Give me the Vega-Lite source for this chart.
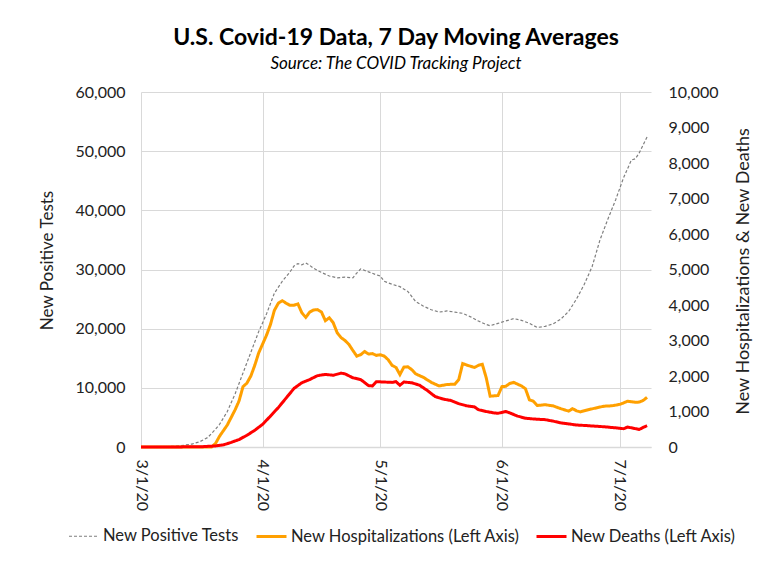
{
  "$schema": "https://vega.github.io/schema/vega-lite/v6.json",
  "width": 510,
  "height": 355,
  "autosize": {"type": "none"},
  "padding": {"left": 141, "top": 92, "right": 130, "bottom": 120},
  "background": "white",
  "title": {
    "text": "U.S. Covid-19 Data, 7 Day Moving Averages",
    "subtitle": "Source: The COVID Tracking Project",
    "anchor": "middle",
    "font": "Lato",
    "fontSize": 23,
    "fontWeight": "bold",
    "color": "#000000",
    "subtitleFont": "Lato",
    "subtitleFontSize": 17,
    "subtitleFontStyle": "italic",
    "subtitleColor": "#000000",
    "subtitlePadding": 6,
    "offset": 12
  },
  "data": {
    "values": [
      {"date": "2020/03/01", "series": "New Positive Tests", "value": 0},
      {"date": "2020/03/05", "series": "New Positive Tests", "value": 30},
      {"date": "2020/03/09", "series": "New Positive Tests", "value": 100},
      {"date": "2020/03/12", "series": "New Positive Tests", "value": 300},
      {"date": "2020/03/14", "series": "New Positive Tests", "value": 500},
      {"date": "2020/03/16", "series": "New Positive Tests", "value": 900},
      {"date": "2020/03/18", "series": "New Positive Tests", "value": 1600},
      {"date": "2020/03/20", "series": "New Positive Tests", "value": 3000},
      {"date": "2020/03/21", "series": "New Positive Tests", "value": 3800},
      {"date": "2020/03/23", "series": "New Positive Tests", "value": 6000},
      {"date": "2020/03/25", "series": "New Positive Tests", "value": 9000},
      {"date": "2020/03/27", "series": "New Positive Tests", "value": 12500},
      {"date": "2020/03/29", "series": "New Positive Tests", "value": 16000},
      {"date": "2020/03/31", "series": "New Positive Tests", "value": 19500},
      {"date": "2020/04/02", "series": "New Positive Tests", "value": 22500},
      {"date": "2020/04/04", "series": "New Positive Tests", "value": 26000},
      {"date": "2020/04/06", "series": "New Positive Tests", "value": 28000},
      {"date": "2020/04/08", "series": "New Positive Tests", "value": 29600},
      {"date": "2020/04/09", "series": "New Positive Tests", "value": 30600},
      {"date": "2020/04/10", "series": "New Positive Tests", "value": 31000},
      {"date": "2020/04/11", "series": "New Positive Tests", "value": 30800},
      {"date": "2020/04/12", "series": "New Positive Tests", "value": 31100},
      {"date": "2020/04/13", "series": "New Positive Tests", "value": 30700},
      {"date": "2020/04/14", "series": "New Positive Tests", "value": 30200},
      {"date": "2020/04/16", "series": "New Positive Tests", "value": 29500},
      {"date": "2020/04/18", "series": "New Positive Tests", "value": 28900},
      {"date": "2020/04/20", "series": "New Positive Tests", "value": 28600},
      {"date": "2020/04/22", "series": "New Positive Tests", "value": 28700},
      {"date": "2020/04/24", "series": "New Positive Tests", "value": 28600},
      {"date": "2020/04/25", "series": "New Positive Tests", "value": 29400},
      {"date": "2020/04/26", "series": "New Positive Tests", "value": 30100},
      {"date": "2020/04/28", "series": "New Positive Tests", "value": 29600},
      {"date": "2020/04/30", "series": "New Positive Tests", "value": 29100},
      {"date": "2020/05/01", "series": "New Positive Tests", "value": 28900},
      {"date": "2020/05/02", "series": "New Positive Tests", "value": 28000},
      {"date": "2020/05/04", "series": "New Positive Tests", "value": 27500},
      {"date": "2020/05/06", "series": "New Positive Tests", "value": 27100},
      {"date": "2020/05/08", "series": "New Positive Tests", "value": 26300},
      {"date": "2020/05/10", "series": "New Positive Tests", "value": 24600},
      {"date": "2020/05/12", "series": "New Positive Tests", "value": 23800},
      {"date": "2020/05/14", "series": "New Positive Tests", "value": 23200},
      {"date": "2020/05/16", "series": "New Positive Tests", "value": 22800},
      {"date": "2020/05/18", "series": "New Positive Tests", "value": 23000},
      {"date": "2020/05/20", "series": "New Positive Tests", "value": 22800},
      {"date": "2020/05/22", "series": "New Positive Tests", "value": 22600},
      {"date": "2020/05/24", "series": "New Positive Tests", "value": 22000},
      {"date": "2020/05/26", "series": "New Positive Tests", "value": 21300},
      {"date": "2020/05/28", "series": "New Positive Tests", "value": 20700},
      {"date": "2020/05/29", "series": "New Positive Tests", "value": 20500},
      {"date": "2020/05/31", "series": "New Positive Tests", "value": 20900},
      {"date": "2020/06/02", "series": "New Positive Tests", "value": 21300},
      {"date": "2020/06/04", "series": "New Positive Tests", "value": 21700},
      {"date": "2020/06/06", "series": "New Positive Tests", "value": 21400},
      {"date": "2020/06/08", "series": "New Positive Tests", "value": 20900},
      {"date": "2020/06/10", "series": "New Positive Tests", "value": 20200},
      {"date": "2020/06/12", "series": "New Positive Tests", "value": 20400},
      {"date": "2020/06/14", "series": "New Positive Tests", "value": 20800},
      {"date": "2020/06/16", "series": "New Positive Tests", "value": 21600},
      {"date": "2020/06/18", "series": "New Positive Tests", "value": 22900},
      {"date": "2020/06/20", "series": "New Positive Tests", "value": 25000},
      {"date": "2020/06/22", "series": "New Positive Tests", "value": 27500},
      {"date": "2020/06/24", "series": "New Positive Tests", "value": 30500},
      {"date": "2020/06/26", "series": "New Positive Tests", "value": 35000},
      {"date": "2020/06/28", "series": "New Positive Tests", "value": 38500},
      {"date": "2020/06/30", "series": "New Positive Tests", "value": 41800},
      {"date": "2020/07/02", "series": "New Positive Tests", "value": 45500},
      {"date": "2020/07/04", "series": "New Positive Tests", "value": 48500},
      {"date": "2020/07/05", "series": "New Positive Tests", "value": 48700},
      {"date": "2020/07/06", "series": "New Positive Tests", "value": 49700},
      {"date": "2020/07/08", "series": "New Positive Tests", "value": 52400},

      {"date": "2020/03/01", "series": "New Hospitalizations (Left Axis)", "value": 0},
      {"date": "2020/03/19", "series": "New Hospitalizations (Left Axis)", "value": 0},
      {"date": "2020/03/20", "series": "New Hospitalizations (Left Axis)", "value": 100},
      {"date": "2020/03/21", "series": "New Hospitalizations (Left Axis)", "value": 300},
      {"date": "2020/03/23", "series": "New Hospitalizations (Left Axis)", "value": 620},
      {"date": "2020/03/25", "series": "New Hospitalizations (Left Axis)", "value": 1050},
      {"date": "2020/03/26", "series": "New Hospitalizations (Left Axis)", "value": 1300},
      {"date": "2020/03/27", "series": "New Hospitalizations (Left Axis)", "value": 1700},
      {"date": "2020/03/28", "series": "New Hospitalizations (Left Axis)", "value": 1800},
      {"date": "2020/03/29", "series": "New Hospitalizations (Left Axis)", "value": 2000},
      {"date": "2020/03/30", "series": "New Hospitalizations (Left Axis)", "value": 2300},
      {"date": "2020/03/31", "series": "New Hospitalizations (Left Axis)", "value": 2650},
      {"date": "2020/04/01", "series": "New Hospitalizations (Left Axis)", "value": 2900},
      {"date": "2020/04/02", "series": "New Hospitalizations (Left Axis)", "value": 3150},
      {"date": "2020/04/03", "series": "New Hospitalizations (Left Axis)", "value": 3450},
      {"date": "2020/04/04", "series": "New Hospitalizations (Left Axis)", "value": 3850},
      {"date": "2020/04/05", "series": "New Hospitalizations (Left Axis)", "value": 4050},
      {"date": "2020/04/06", "series": "New Hospitalizations (Left Axis)", "value": 4120},
      {"date": "2020/04/07", "series": "New Hospitalizations (Left Axis)", "value": 4050},
      {"date": "2020/04/08", "series": "New Hospitalizations (Left Axis)", "value": 3990},
      {"date": "2020/04/09", "series": "New Hospitalizations (Left Axis)", "value": 3995},
      {"date": "2020/04/10", "series": "New Hospitalizations (Left Axis)", "value": 4030},
      {"date": "2020/04/11", "series": "New Hospitalizations (Left Axis)", "value": 3780},
      {"date": "2020/04/12", "series": "New Hospitalizations (Left Axis)", "value": 3650},
      {"date": "2020/04/13", "series": "New Hospitalizations (Left Axis)", "value": 3800},
      {"date": "2020/04/14", "series": "New Hospitalizations (Left Axis)", "value": 3860},
      {"date": "2020/04/15", "series": "New Hospitalizations (Left Axis)", "value": 3870},
      {"date": "2020/04/16", "series": "New Hospitalizations (Left Axis)", "value": 3800},
      {"date": "2020/04/17", "series": "New Hospitalizations (Left Axis)", "value": 3560},
      {"date": "2020/04/18", "series": "New Hospitalizations (Left Axis)", "value": 3640},
      {"date": "2020/04/19", "series": "New Hospitalizations (Left Axis)", "value": 3500},
      {"date": "2020/04/20", "series": "New Hospitalizations (Left Axis)", "value": 3220},
      {"date": "2020/04/21", "series": "New Hospitalizations (Left Axis)", "value": 3080},
      {"date": "2020/04/22", "series": "New Hospitalizations (Left Axis)", "value": 3000},
      {"date": "2020/04/23", "series": "New Hospitalizations (Left Axis)", "value": 2890},
      {"date": "2020/04/24", "series": "New Hospitalizations (Left Axis)", "value": 2720},
      {"date": "2020/04/25", "series": "New Hospitalizations (Left Axis)", "value": 2560},
      {"date": "2020/04/26", "series": "New Hospitalizations (Left Axis)", "value": 2600},
      {"date": "2020/04/27", "series": "New Hospitalizations (Left Axis)", "value": 2690},
      {"date": "2020/04/28", "series": "New Hospitalizations (Left Axis)", "value": 2620},
      {"date": "2020/04/29", "series": "New Hospitalizations (Left Axis)", "value": 2630},
      {"date": "2020/04/30", "series": "New Hospitalizations (Left Axis)", "value": 2580},
      {"date": "2020/05/01", "series": "New Hospitalizations (Left Axis)", "value": 2600},
      {"date": "2020/05/02", "series": "New Hospitalizations (Left Axis)", "value": 2560},
      {"date": "2020/05/03", "series": "New Hospitalizations (Left Axis)", "value": 2460},
      {"date": "2020/05/04", "series": "New Hospitalizations (Left Axis)", "value": 2300},
      {"date": "2020/05/05", "series": "New Hospitalizations (Left Axis)", "value": 2240},
      {"date": "2020/05/06", "series": "New Hospitalizations (Left Axis)", "value": 2040},
      {"date": "2020/05/07", "series": "New Hospitalizations (Left Axis)", "value": 2250},
      {"date": "2020/05/08", "series": "New Hospitalizations (Left Axis)", "value": 2260},
      {"date": "2020/05/09", "series": "New Hospitalizations (Left Axis)", "value": 2180},
      {"date": "2020/05/10", "series": "New Hospitalizations (Left Axis)", "value": 2060},
      {"date": "2020/05/12", "series": "New Hospitalizations (Left Axis)", "value": 1960},
      {"date": "2020/05/14", "series": "New Hospitalizations (Left Axis)", "value": 1820},
      {"date": "2020/05/16", "series": "New Hospitalizations (Left Axis)", "value": 1720},
      {"date": "2020/05/18", "series": "New Hospitalizations (Left Axis)", "value": 1760},
      {"date": "2020/05/20", "series": "New Hospitalizations (Left Axis)", "value": 1770},
      {"date": "2020/05/21", "series": "New Hospitalizations (Left Axis)", "value": 1900},
      {"date": "2020/05/22", "series": "New Hospitalizations (Left Axis)", "value": 2350},
      {"date": "2020/05/23", "series": "New Hospitalizations (Left Axis)", "value": 2310},
      {"date": "2020/05/25", "series": "New Hospitalizations (Left Axis)", "value": 2240},
      {"date": "2020/05/26", "series": "New Hospitalizations (Left Axis)", "value": 2300},
      {"date": "2020/05/27", "series": "New Hospitalizations (Left Axis)", "value": 2330},
      {"date": "2020/05/28", "series": "New Hospitalizations (Left Axis)", "value": 1950},
      {"date": "2020/05/29", "series": "New Hospitalizations (Left Axis)", "value": 1430},
      {"date": "2020/05/31", "series": "New Hospitalizations (Left Axis)", "value": 1450},
      {"date": "2020/06/01", "series": "New Hospitalizations (Left Axis)", "value": 1700},
      {"date": "2020/06/02", "series": "New Hospitalizations (Left Axis)", "value": 1710},
      {"date": "2020/06/03", "series": "New Hospitalizations (Left Axis)", "value": 1790},
      {"date": "2020/06/04", "series": "New Hospitalizations (Left Axis)", "value": 1820},
      {"date": "2020/06/06", "series": "New Hospitalizations (Left Axis)", "value": 1720},
      {"date": "2020/06/07", "series": "New Hospitalizations (Left Axis)", "value": 1640},
      {"date": "2020/06/08", "series": "New Hospitalizations (Left Axis)", "value": 1330},
      {"date": "2020/06/09", "series": "New Hospitalizations (Left Axis)", "value": 1290},
      {"date": "2020/06/10", "series": "New Hospitalizations (Left Axis)", "value": 1170},
      {"date": "2020/06/12", "series": "New Hospitalizations (Left Axis)", "value": 1190},
      {"date": "2020/06/14", "series": "New Hospitalizations (Left Axis)", "value": 1160},
      {"date": "2020/06/16", "series": "New Hospitalizations (Left Axis)", "value": 1080},
      {"date": "2020/06/18", "series": "New Hospitalizations (Left Axis)", "value": 1010},
      {"date": "2020/06/19", "series": "New Hospitalizations (Left Axis)", "value": 1080},
      {"date": "2020/06/20", "series": "New Hospitalizations (Left Axis)", "value": 1020},
      {"date": "2020/06/21", "series": "New Hospitalizations (Left Axis)", "value": 990},
      {"date": "2020/06/23", "series": "New Hospitalizations (Left Axis)", "value": 1050},
      {"date": "2020/06/25", "series": "New Hospitalizations (Left Axis)", "value": 1100},
      {"date": "2020/06/27", "series": "New Hospitalizations (Left Axis)", "value": 1150},
      {"date": "2020/06/29", "series": "New Hospitalizations (Left Axis)", "value": 1160},
      {"date": "2020/07/01", "series": "New Hospitalizations (Left Axis)", "value": 1200},
      {"date": "2020/07/02", "series": "New Hospitalizations (Left Axis)", "value": 1240},
      {"date": "2020/07/03", "series": "New Hospitalizations (Left Axis)", "value": 1290},
      {"date": "2020/07/05", "series": "New Hospitalizations (Left Axis)", "value": 1260},
      {"date": "2020/07/06", "series": "New Hospitalizations (Left Axis)", "value": 1265},
      {"date": "2020/07/07", "series": "New Hospitalizations (Left Axis)", "value": 1310},
      {"date": "2020/07/08", "series": "New Hospitalizations (Left Axis)", "value": 1400},

      {"date": "2020/03/01", "series": "New Deaths (Left Axis)", "value": 0},
      {"date": "2020/03/16", "series": "New Deaths (Left Axis)", "value": 5},
      {"date": "2020/03/20", "series": "New Deaths (Left Axis)", "value": 30},
      {"date": "2020/03/22", "series": "New Deaths (Left Axis)", "value": 60},
      {"date": "2020/03/24", "series": "New Deaths (Left Axis)", "value": 130},
      {"date": "2020/03/26", "series": "New Deaths (Left Axis)", "value": 210},
      {"date": "2020/03/28", "series": "New Deaths (Left Axis)", "value": 330},
      {"date": "2020/03/30", "series": "New Deaths (Left Axis)", "value": 470},
      {"date": "2020/04/01", "series": "New Deaths (Left Axis)", "value": 640},
      {"date": "2020/04/03", "series": "New Deaths (Left Axis)", "value": 870},
      {"date": "2020/04/05", "series": "New Deaths (Left Axis)", "value": 1110},
      {"date": "2020/04/07", "series": "New Deaths (Left Axis)", "value": 1380},
      {"date": "2020/04/09", "series": "New Deaths (Left Axis)", "value": 1650},
      {"date": "2020/04/11", "series": "New Deaths (Left Axis)", "value": 1810},
      {"date": "2020/04/13", "series": "New Deaths (Left Axis)", "value": 1900},
      {"date": "2020/04/15", "series": "New Deaths (Left Axis)", "value": 2010},
      {"date": "2020/04/17", "series": "New Deaths (Left Axis)", "value": 2045},
      {"date": "2020/04/19", "series": "New Deaths (Left Axis)", "value": 2020},
      {"date": "2020/04/21", "series": "New Deaths (Left Axis)", "value": 2080},
      {"date": "2020/04/22", "series": "New Deaths (Left Axis)", "value": 2060},
      {"date": "2020/04/24", "series": "New Deaths (Left Axis)", "value": 1950},
      {"date": "2020/04/26", "series": "New Deaths (Left Axis)", "value": 1900},
      {"date": "2020/04/28", "series": "New Deaths (Left Axis)", "value": 1730},
      {"date": "2020/04/29", "series": "New Deaths (Left Axis)", "value": 1720},
      {"date": "2020/04/30", "series": "New Deaths (Left Axis)", "value": 1840},
      {"date": "2020/05/02", "series": "New Deaths (Left Axis)", "value": 1830},
      {"date": "2020/05/04", "series": "New Deaths (Left Axis)", "value": 1820},
      {"date": "2020/05/05", "series": "New Deaths (Left Axis)", "value": 1840},
      {"date": "2020/05/06", "series": "New Deaths (Left Axis)", "value": 1740},
      {"date": "2020/05/07", "series": "New Deaths (Left Axis)", "value": 1830},
      {"date": "2020/05/09", "series": "New Deaths (Left Axis)", "value": 1810},
      {"date": "2020/05/11", "series": "New Deaths (Left Axis)", "value": 1740},
      {"date": "2020/05/13", "series": "New Deaths (Left Axis)", "value": 1590},
      {"date": "2020/05/15", "series": "New Deaths (Left Axis)", "value": 1420},
      {"date": "2020/05/17", "series": "New Deaths (Left Axis)", "value": 1350},
      {"date": "2020/05/19", "series": "New Deaths (Left Axis)", "value": 1310},
      {"date": "2020/05/21", "series": "New Deaths (Left Axis)", "value": 1220},
      {"date": "2020/05/23", "series": "New Deaths (Left Axis)", "value": 1160},
      {"date": "2020/05/25", "series": "New Deaths (Left Axis)", "value": 1130},
      {"date": "2020/05/26", "series": "New Deaths (Left Axis)", "value": 1050},
      {"date": "2020/05/28", "series": "New Deaths (Left Axis)", "value": 1000},
      {"date": "2020/05/30", "series": "New Deaths (Left Axis)", "value": 960},
      {"date": "2020/05/31", "series": "New Deaths (Left Axis)", "value": 950},
      {"date": "2020/06/02", "series": "New Deaths (Left Axis)", "value": 1000},
      {"date": "2020/06/03", "series": "New Deaths (Left Axis)", "value": 960},
      {"date": "2020/06/05", "series": "New Deaths (Left Axis)", "value": 870},
      {"date": "2020/06/07", "series": "New Deaths (Left Axis)", "value": 810},
      {"date": "2020/06/09", "series": "New Deaths (Left Axis)", "value": 790},
      {"date": "2020/06/12", "series": "New Deaths (Left Axis)", "value": 770},
      {"date": "2020/06/14", "series": "New Deaths (Left Axis)", "value": 730},
      {"date": "2020/06/16", "series": "New Deaths (Left Axis)", "value": 680},
      {"date": "2020/06/18", "series": "New Deaths (Left Axis)", "value": 650},
      {"date": "2020/06/20", "series": "New Deaths (Left Axis)", "value": 620},
      {"date": "2020/06/23", "series": "New Deaths (Left Axis)", "value": 600},
      {"date": "2020/06/27", "series": "New Deaths (Left Axis)", "value": 570},
      {"date": "2020/06/30", "series": "New Deaths (Left Axis)", "value": 540},
      {"date": "2020/07/02", "series": "New Deaths (Left Axis)", "value": 515},
      {"date": "2020/07/03", "series": "New Deaths (Left Axis)", "value": 560},
      {"date": "2020/07/04", "series": "New Deaths (Left Axis)", "value": 540},
      {"date": "2020/07/06", "series": "New Deaths (Left Axis)", "value": 495},
      {"date": "2020/07/07", "series": "New Deaths (Left Axis)", "value": 550},
      {"date": "2020/07/08", "series": "New Deaths (Left Axis)", "value": 600}
    ]
  },
  "encoding": {
    "x": {
      "field": "date",
      "type": "temporal",
      "scale": {"domain": [{"year": 2020, "month": 3, "date": 1}, {"year": 2020, "month": 7, "date": 9}]},
      "axis": {
        "title": null,
        "values": [
          {"year": 2020, "month": 3, "date": 1},
          {"year": 2020, "month": 4, "date": 1},
          {"year": 2020, "month": 5, "date": 1},
          {"year": 2020, "month": 6, "date": 1},
          {"year": 2020, "month": 7, "date": 1}
        ],
        "format": "%-m/%-d/%y",
        "labelAngle": 90,
        "labelAlign": "left",
        "labelBaseline": "middle",
        "labelPadding": 12,
        "ticks": false,
        "grid": true,
        "gridColor": "#d9d9d9",
        "domainColor": "#d9d9d9",
        "domainWidth": 1.5,
        "labelFont": "Lato",
        "labelFontSize": 16,
        "labelColor": "#222222",
        "labelFlush": false,
        "labelOverlap": false
      }
    },
    "color": {
      "field": "series",
      "type": "nominal",
      "title": null,
      "scale": {
        "domain": ["New Positive Tests", "New Hospitalizations (Left Axis)", "New Deaths (Left Axis)"],
        "range": ["#7f7f7f", "#ffa000", "#ff0000"]
      }
    },
    "strokeDash": {
      "field": "series",
      "type": "nominal",
      "title": null,
      "scale": {
        "domain": ["New Positive Tests", "New Hospitalizations (Left Axis)", "New Deaths (Left Axis)"],
        "range": [[3, 2], [1, 0], [1, 0]]
      }
    },
    "strokeWidth": {
      "field": "series",
      "type": "nominal",
      "title": null,
      "scale": {
        "type": "ordinal",
        "domain": ["New Positive Tests", "New Hospitalizations (Left Axis)", "New Deaths (Left Axis)"],
        "range": [1.2, 3, 3]
      }
    }
  },
  "layer": [
    {
      "transform": [{"filter": "datum.series === 'New Positive Tests'"}],
      "mark": {"type": "line", "interpolate": "linear"},
      "encoding": {
        "y": {
          "field": "value",
          "type": "quantitative",
          "scale": {"domain": [0, 60000], "nice": false},
          "axis": {
            "orient": "left",
            "title": "New Positive Tests",
            "values": [0, 10000, 20000, 30000, 40000, 50000, 60000],
            "format": ",.0f",
            "grid": true,
            "gridColor": "#d9d9d9",
            "domain": false,
            "ticks": false,
            "labelPadding": 16,
            "labelFont": "Lato",
            "labelFontSize": 16,
            "labelColor": "#222222",
            "titleFont": "Lato",
            "titleFontSize": 17,
            "titleFontWeight": "normal",
            "titleColor": "#222222",
            "titleAngle": 270,
            "titleX": -94,
            "titleY": 168,
            "titleAlign": "center",
            "titleBaseline": "middle"
          }
        }
      }
    },
    {
      "transform": [{"filter": "datum.series !== 'New Positive Tests'"}],
      "mark": {"type": "line", "interpolate": "linear"},
      "encoding": {
        "y": {
          "field": "value",
          "type": "quantitative",
          "scale": {"domain": [0, 10000], "nice": false},
          "axis": {
            "orient": "right",
            "title": "New Hospitalizations & New Deaths",
            "values": [0, 1000, 2000, 3000, 4000, 5000, 6000, 7000, 8000, 9000, 10000],
            "format": ",.0f",
            "grid": false,
            "domain": false,
            "ticks": false,
            "labelPadding": 17,
            "labelFont": "Lato",
            "labelFontSize": 16,
            "labelColor": "#222222",
            "titleFont": "Lato",
            "titleFontSize": 18,
            "titleFontWeight": "normal",
            "titleColor": "#222222",
            "titleAngle": 270,
            "titleX": 92,
            "titleY": 179,
            "titleAlign": "center",
            "titleBaseline": "middle"
          }
        }
      }
    }
  ],
  "resolve": {"scale": {"y": "independent"}},
  "config": {
    "view": {"stroke": null},
    "legend": {
      "orient": "none",
      "legendX": -73,
      "legendY": 428,
      "direction": "horizontal",
      "symbolType": "stroke",
      "symbolSize": 900,
      "labelFont": "Lato",
      "labelFontSize": 16.5,
      "labelColor": "#222222",
      "labelOffset": 3,
      "columnPadding": 10,
      "labelLimit": 400
    }
  }
}
